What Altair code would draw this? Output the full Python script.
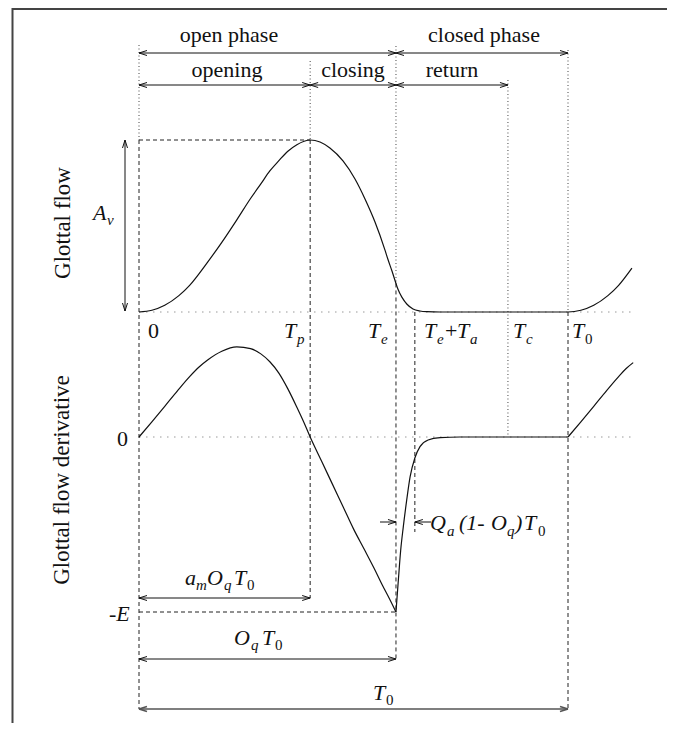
import altair as alt
import pandas as pd

# ---------------- values ----------------
# instants, as a fraction of the period T0
T_P = 0.399      # Tp
T_E = 0.599      # Te
T_A = 0.044      # Ta  (Te + Ta)
T_C = 0.860      # Tc
T_0 = 1.0        # T0
T_END = 1.152    # end of the drawn curves

# glottal flow, normalised by Av
FLOW_T = [0.000, 0.030, 0.060, 0.093, 0.118, 0.160, 0.193, 0.228, 0.260, 0.284, 0.305, 0.326,
          0.347, 0.368, 0.385, 0.399, 0.422, 0.445, 0.4755, 0.5035, 0.5268, 0.5501, 0.5734,
          0.5804, 0.5897, 0.599, 0.6037, 0.6131, 0.6247, 0.6387, 0.655, 0.671, 0.702, 0.850,
          1.000, 1.030, 1.060, 1.093, 1.118, 1.149]
FLOW_A = [0.000, 0.010, 0.039, 0.095, 0.155, 0.290, 0.405, 0.536, 0.660, 0.745, 0.820, 0.880,
          0.935, 0.973, 0.993, 1.000, 0.988, 0.953, 0.878, 0.773, 0.657, 0.523, 0.360,
          0.305, 0.238, 0.166, 0.132, 0.085, 0.045, 0.018, 0.006, 0.002, 0.000, 0.000,
          0.000, 0.010, 0.039, 0.095, 0.155, 0.255]

# glottal flow derivative, normalised by E (three pieces: open phase, return + closed, next period)
DER1_T = [0.000, 0.030, 0.060, 0.090, 0.118, 0.140, 0.160, 0.193, 0.228, 0.260, 0.284, 0.305,
          0.326, 0.347, 0.368, 0.385, 0.399, 0.426, 0.450, 0.476, 0.500, 0.526, 0.548, 0.568,
          0.585, 0.599]
DER1_D = [0.000, 0.087, 0.175, 0.265, 0.345, 0.400, 0.440, 0.490, 0.515, 0.505, 0.475, 0.430,
          0.365, 0.275, 0.170, 0.080, 0.000, -0.140, -0.265, -0.400, -0.525, -0.646, -0.750,
          -0.850, -0.930, -1.000]
DER2_T = [0.599, 0.6049, 0.610, 0.616, 0.624, 0.632, 0.643, 0.655, 0.674, 0.702, 0.748, 0.850, 1.000]
DER2_D = [-1.000, -0.806, -0.647, -0.515, -0.361, -0.227, -0.120, -0.055, -0.017, -0.004, 0.000,
          0.000, 0.000]
DER3_T = [1.000, 1.030, 1.060, 1.090, 1.118, 1.135, 1.152]
DER3_D = [0.000, 0.087, 0.175, 0.265, 0.345, 0.390, 0.425]

# ---------------- layout (page pixels) ----------------
PAGE_LEFT, PAGE_TOP, W, H = 8, 8, 659, 715
LEFT_PX, PERIOD_PX = 139, 429          # where t=0 and t=T0 fall
FLOW_ZERO_Y, FLOW_UNIT = 312, 172       # flow: 0 and Av
DER_ZERO_Y, DER_UNIT = 437, 175         # derivative: 0 and E


def tx(px):
    return (px - LEFT_PX) / PERIOD_PX


def fy(a):
    return FLOW_ZERO_Y - FLOW_UNIT * a


def dy(d):
    return DER_ZERO_Y - DER_UNIT * d


XS = alt.Scale(domain=[tx(PAGE_LEFT), tx(PAGE_LEFT + W)], range=[0, W], nice=False, zero=False)
YS = alt.Scale(domain=[PAGE_TOP, PAGE_TOP + H], range=[0, H], nice=False, zero=False)

# ---------------- curves ----------------
rows = []
for i, (t, a) in enumerate(zip(FLOW_T, FLOW_A)):
    rows.append(dict(seg="flow", i=i, x=t, y=fy(a)))
for name, ts, ds in [("d1", DER1_T, DER1_D), ("d2", DER2_T, DER2_D), ("d3", DER3_T, DER3_D)]:
    for i, (t, d) in enumerate(zip(ts, ds)):
        rows.append(dict(seg=name, i=i, x=t, y=dy(d)))
curves = pd.DataFrame(rows)

# ---------------- guide lines and arrows ----------------
segs = []


def seg(kind, x1, y1, x2, y2):
    segs.append(dict(kind=kind, x=x1, y=y1, x2=x2, y2=y2))


AL, AW = 8 / PERIOD_PX, 2.5   # arrow head length (t units) and half width (px)


def head(kind, t, y, d):
    if d == "r":
        seg(kind, t, y, t - AL, y - AW); seg(kind, t, y, t - AL, y + AW)
    elif d == "l":
        seg(kind, t, y, t + AL, y - AW); seg(kind, t, y, t + AL, y + AW)
    elif d == "u":
        seg(kind, t, y, t - AW / PERIOD_PX, y + 8); seg(kind, t, y, t + AW / PERIOD_PX, y + 8)
    else:
        seg(kind, t, y, t - AW / PERIOD_PX, y - 8); seg(kind, t, y, t + AW / PERIOD_PX, y - 8)


def harrow(kind, y, t1, t2):
    seg(kind, t1, y, t2, y)
    head(kind, t1, y, "l")
    head(kind, t2, y, "r")


flow_at_te = fy(FLOW_A[FLOW_T.index(T_E)])

# frame
seg("frame", tx(12), 9, tx(675), 9)
seg("frame", tx(12.5), 8, tx(12.5), 731)
# dotted verticals
for t, y1, y2 in [(0, 45, fy(1)), (T_P, 61, fy(1)), (T_E, 46, flow_at_te), (T_C, 80, dy(0)), (T_0, 50, fy(0))]:
    seg("dotv", t, y1, t, y2)
# dotted zero lines
seg("doth", 0, fy(0), T_END, fy(0))
seg("doth", 0, dy(0), T_END, dy(0))
# dashed
for t, y1, y2 in [(0, fy(1), 709), (T_P, fy(1), 598), (T_E, flow_at_te, 659),
                  (T_E + T_A, fy(0), 532), (T_0, fy(0), 709)]:
    seg("dash", t, y1, t, y2)
seg("dash", 0, fy(1), T_P, fy(1))
seg("dash", 0, dy(-1), T_E, dy(-1))
# arrows
harrow("arrow", 53, 0, T_E)
harrow("arrow", 53, T_E, T_0)
harrow("arrow", 85, 0, T_P)
harrow("arrow", 85, T_P, T_E)
harrow("arrow", 85, T_E, T_C)
harrow("arrow", 598, 0, T_P)
harrow("arrow", 659, 0, T_E)
harrow("arrowg", 709, 0, T_0)
av_x = tx(125)
seg("arrow", av_x, fy(1), av_x, fy(0) - 1)
head("arrow", av_x, fy(1), "u")
head("arrow", av_x, fy(0) - 1, "d")
seg("arrow", tx(380), 522, T_E, 522)
head("arrow", T_E, 522, "r")
seg("arrow", tx(431), 522, T_E + T_A, 522)
head("arrow", T_E + T_A, 522, "l")
lines = pd.DataFrame(segs)

STYLES = {
    "frame": dict(color="#444", strokeWidth=2),
    "dotv": dict(color="#444", strokeWidth=1, strokeDash=[1, 2.5]),
    "doth": dict(color="#999", strokeWidth=1.2, strokeDash=[1.5, 5.5]),
    "dash": dict(color="#222", strokeWidth=1, strokeDash=[4, 3]),
    "arrow": dict(color="#111", strokeWidth=1),
    "arrowg": dict(color="#555", strokeWidth=1.6),
}

layers = []
for kind, st in STYLES.items():
    layers.append(
        alt.Chart(lines[lines.kind == kind]).mark_rule(**st).encode(
            x=alt.X("x:Q", scale=XS, axis=None),
            x2="x2:Q",
            y=alt.Y("y:Q", scale=YS, axis=None),
            y2="y2:Q",
        )
    )

layers.append(
    alt.Chart(curves).mark_line(interpolate="monotone", color="#111", strokeWidth=1.2).encode(
        x=alt.X("x:Q", scale=XS, axis=None),
        y=alt.Y("y:Q", scale=YS, axis=None),
        detail="seg:N",
        order="i:Q",
    )
)

# ---------------- texts ----------------
FONT = "'Liberation Serif', 'Times New Roman', Times, 'DejaVu Serif', serif"
B, S = 22, 15  # base and subscript sizes
labels = [
    # text, x px, baseline px, size, class
    ("open phase", 229, 42, B, "phrase"),
    ("closed phase", 484, 42, B, "phrase"),
    ("opening", 227, 77, B, "phrase"),
    ("closing", 353, 77, B, "phrase"),
    ("return", 452, 77, B, "phrase"),
    ("0", 148, 338, B, "n"),
    ("T", 284, 338, B, "i"), ("p", 297, 344, S, "i"),
    ("T", 368, 338, B, "i"), ("e", 381, 344, S, "i"),
    ("T", 424, 338, B, "i"), ("e", 437, 344, S, "i"), ("+", 445, 338, B, "n"),
    ("T", 457, 338, B, "i"), ("a", 470, 344, S, "i"),
    ("T", 513, 338, B, "i"), ("c", 526, 344, S, "i"),
    ("T", 572, 338, B, "i"), ("0", 585, 344, S, "n"),
    ("A", 93, 220, B, "i"), ("v", 107, 225, S, "i"),
    ("0", 117, 446, B, "n"),
    ("-E", 109, 621, B, "i"),
    ("a", 185, 585, B, "i"), ("m", 196, 590, S, "i"), ("O", 207, 585, B, "i"),
    ("q", 224, 590, S, "i"), ("T", 234, 585, B, "i"), ("0", 247, 590, S, "n"),
    ("O", 234, 645, B, "i"), ("q", 251, 650, S, "i"), ("T", 262, 645, B, "i"), ("0", 275, 650, S, "n"),
    ("T", 373, 700, B, "i"), ("0", 386, 705, S, "n"),
    ("Q", 430, 530, B, "i"), ("a", 447, 536, S, "i"), ("(1-", 459, 530, B, "i"),
    ("O", 491, 530, B, "i"), ("q", 507, 536, S, "i"), (")", 515, 530, B, "i"),
    ("T", 524, 530, B, "i"), ("0", 538, 536, S, "n"),
    ("Glottal flow", 63, 223, 23, "rot"),
    ("Glottal flow derivative", 62, 480, 23, "rot"),
]
tdf = pd.DataFrame([dict(text=t, x=tx(x), y=y, size=s, cls=c) for t, x, y, s, c in labels])

TEXT_MARKS = {
    "phrase": dict(align="center", baseline="alphabetic"),
    "n": dict(align="left", baseline="alphabetic"),
    "i": dict(align="left", baseline="alphabetic", fontStyle="italic"),
    "rot": dict(align="center", baseline="middle", angle=270),
}
for cls, props in TEXT_MARKS.items():
    layers.append(
        alt.Chart(tdf[tdf.cls == cls]).mark_text(font=FONT, color="#111", **props).encode(
            x=alt.X("x:Q", scale=XS, axis=None),
            y=alt.Y("y:Q", scale=YS, axis=None),
            text="text:N",
            size=alt.Size("size:Q", scale=None, legend=None),
        )
    )

chart = alt.layer(*layers).properties(
    width=W, height=H, padding=0, autosize=alt.AutoSizeParams(type="none")
).configure_view(stroke=None)

chart.save("out.html", embed_options={"renderer": "svg", "actions": False})
